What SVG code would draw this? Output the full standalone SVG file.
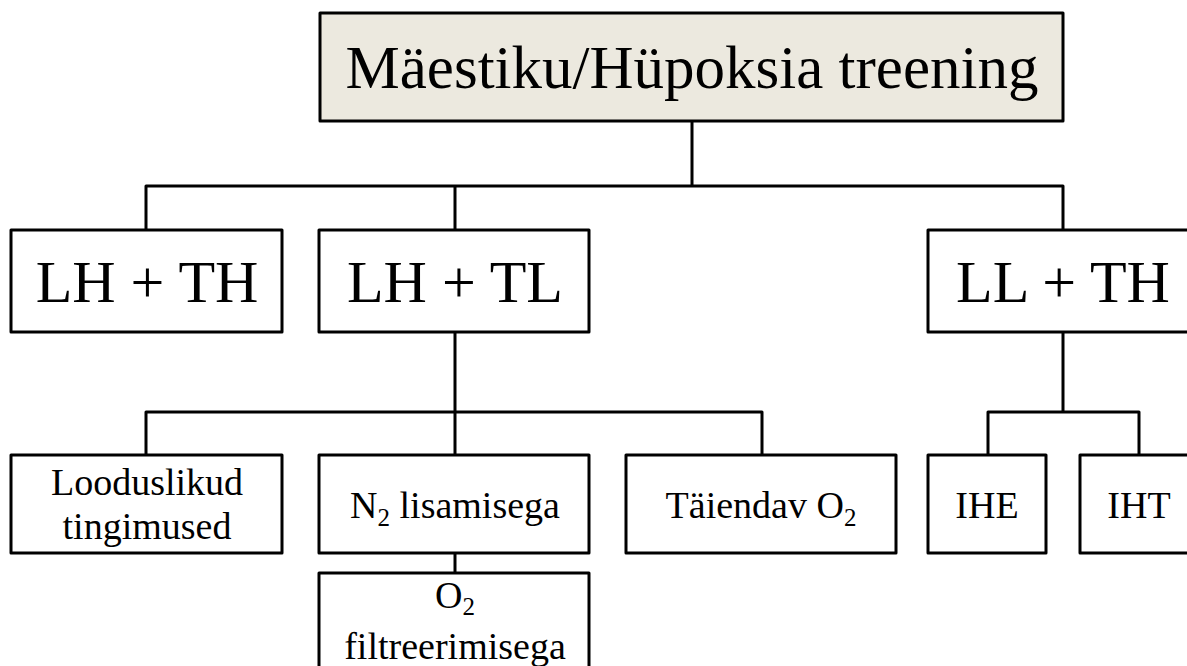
<svg xmlns="http://www.w3.org/2000/svg" width="1187" height="666" viewBox="0 0 1187 666">
<style>
.box{fill:#fff;stroke:#000;stroke-width:3;stroke-linejoin:round}
.root{fill:#ECE9DF}
.ln{fill:none;stroke:#000;stroke-width:3;stroke-linejoin:round}
text{font-family:"Liberation Serif","Times New Roman",serif;fill:#000;text-anchor:middle}
.t1{font-size:61px}
.t2{font-size:60px}
.t3{font-size:38px}
.sub{font-size:25px}
</style>
<rect width="1187" height="666" fill="#fff"/>
<g id="connectors">
<path class="ln" d="M692 121V186M146 230V186H1063V230M455 186V230"/>
<path class="ln" d="M455 332V455M146 455V412H762V455"/>
<path class="ln" d="M1063 332V412M988 454V412H1139V454"/>
<path class="ln" d="M455 553V573"/>
</g>
<g id="root"><rect class="box root" x="320" y="13" width="743" height="108"/><text class="t1" x="692" y="88">Mäestiku/Hüpoksia treening</text></g>
<g id="lhth"><rect class="box" x="11" y="230" width="271" height="102"/><text class="t2" x="147" y="302">LH + TH</text></g>
<g id="lhtl"><rect class="box" x="319" y="230" width="270" height="102"/><text class="t2" x="455" y="302">LH + TL</text></g>
<g id="llth"><rect class="box" x="928" y="230" width="268" height="102"/><text class="t2" x="1063" y="302">LL + TH</text></g>
<g id="looduslikud"><rect class="box" x="11" y="455" width="271" height="98"/><text class="t3" x="147" y="495">Looduslikud</text><text class="t3" x="147" y="539">tingimused</text></g>
<g id="n2"><rect class="box" x="319" y="455" width="270" height="98"/><text class="t3" x="455" y="518">N<tspan class="sub" dy="8">2</tspan><tspan dy="-8"> lisamisega</tspan></text></g>
<g id="taiendav"><rect class="box" x="626" y="455" width="270" height="98"/><text class="t3" x="761" y="518">Täiendav O<tspan class="sub" dy="8">2</tspan></text></g>
<g id="ihe"><rect class="box" x="928" y="455" width="118" height="98"/><text class="t3" x="987" y="518">IHE</text></g>
<g id="iht"><rect class="box" x="1080" y="455" width="118" height="98"/><text class="t3" x="1139" y="518">IHT</text></g>
<g id="o2"><rect class="box" x="319" y="573" width="270" height="110"/><text class="t3" x="455" y="608">O<tspan class="sub" dy="7">2</tspan></text><text class="t3" x="455" y="659">filtreerimisega</text></g>
</svg>
